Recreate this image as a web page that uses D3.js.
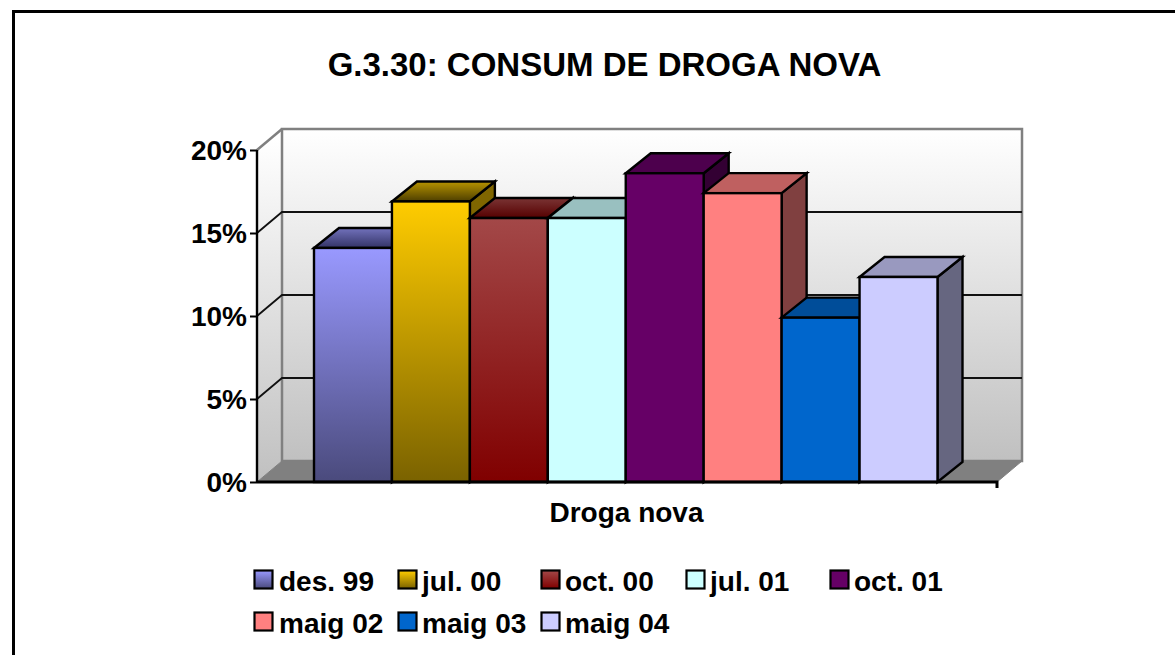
<!DOCTYPE html>
<html><head><meta charset="utf-8">
<script src="https://cdnjs.cloudflare.com/ajax/libs/d3/7.8.5/d3.min.js"></script>
<style>html,body{margin:0;padding:0;background:#fff}svg{display:block}text{font-family:"Liberation Sans",Arial,sans-serif;font-weight:bold;fill:#000}</style>
</head><body><svg id="c" width="1175" height="655"></svg>
<script>
const titleText = "G.3.30: CONSUM DE DROGA NOVA";
const categoryLabel = "Droga nova";
const seriesNames = ["des. 99","jul. 00","oct. 00","jul. 01","oct. 01","maig 02","maig 03","maig 04"];
const seriesValues = [14.1,16.9,15.9,15.9,18.6,17.4,9.9,12.35];
const axisTicks = [0,5,10,15,20];
const faceTop = ["#9999ff","#ffcc00","#a34848","#ccffff","#660066","#ff8080","#0066cc","#ccccff"];
const faceBottom = ["#4a4a7c","#7a6200","#800000","#ccffff","#660066","#ff8080","#0066cc","#ccccff"];
const lidTop = ["#7272bc","#b89400","#7a3434","#99c0c0","#4d004d","#bf6060","#004d99","#9999bf"];
const lidBottom = ["#333366","#4d3e00","#560000","#99c0c0","#4d004d","#bf6060","#004d99","#9999bf"];
const sideFill = ["#4d4d80","#806600","#663333","#668080","#330033","#804040","#003366","#666680"];
const legendX = [254,398,541,686,830,254,398,541];
const legendY = [581,581,581,581,581,623,623,623];

const svg = d3.select("#c");
const defs = svg.append("defs");
const X0=257, X1=997, Y0=482, Y20=150, DX=25, DY=-21, BDY=-20;
const y = d3.scaleLinear().domain([0,20]).range([Y0,Y20]);
const x = d3.scaleBand().domain(seriesNames).range([314,937.5]).padding(0);
const line = d3.line();

// frame
svg.append("path").attr("d","M13.5,655V11.5H1175").attr("fill","none").attr("stroke","#000").attr("stroke-width",3);

// gradients
function grad(id,c1,c2,y1,y2){
  const g=defs.append("linearGradient").attr("id",id).attr("gradientUnits","userSpaceOnUse")
    .attr("x1",0).attr("x2",0).attr("y1",y1).attr("y2",y2);
  g.append("stop").attr("offset",0).attr("stop-color",c1);
  g.append("stop").attr("offset",1).attr("stop-color",c2);
}
grad("wall","#ffffff","#c0c0c0",Y20+DY,Y0+DY);
grad("swall","#ffffff","#c0c0c0",Y20+DY/2,Y0);
seriesNames.forEach((n,i)=>{
  grad("f"+i,faceTop[i],faceBottom[i],y(seriesValues[i]),Y0);
  grad("l"+i,lidTop[i],lidBottom[i],y(seriesValues[i])+BDY,y(seriesValues[i]));
});

// walls and floor
const wallStroke="#808080";
svg.append("path").attr("d",line([[X0,Y20],[X0+DX,Y20+DY],[X0+DX,Y0+DY],[X0,Y0]])+"Z").attr("fill","url(#swall)").attr("stroke","none");
svg.append("rect").attr("x",X0+DX).attr("y",Y20+DY).attr("width",X1-X0).attr("height",Y0-Y20).attr("fill","url(#wall)").attr("stroke",wallStroke).attr("stroke-width",2.5);
svg.append("path").attr("d",line([[X0,Y0],[X0+DX,Y0+DY],[X1+DX,Y0+DY],[X1,Y0]])+"Z").attr("fill","#808080").attr("stroke","#808080").attr("stroke-width",1);
svg.append("path").attr("d",line([[X0,Y20],[X0+DX,Y20+DY]])).attr("stroke",wallStroke).attr("stroke-width",2.5).attr("fill","none");

// gridlines
axisTicks.filter(t=>t>0&&t<20).forEach(t=>{
  svg.append("path").attr("d",line([[X0,y(t)],[X0+DX,y(t)+DY],[X1+DX,y(t)+DY]])).attr("fill","none").attr("stroke","#111").attr("stroke-width",1.8);
});

// bars
const W=x.bandwidth();
seriesNames.forEach((n,i)=>{
  const v=seriesValues[i], l=x(n), r=l+W, t=y(v);
  const g=svg.append("g").attr("stroke","#000").attr("stroke-width",2.4).attr("stroke-linejoin","miter");
  g.append("path").attr("d",line([[r,t],[r+DX,t+BDY],[r+DX,Y0+BDY],[r,Y0]])+"Z").attr("fill",sideFill[i]);
  g.append("path").attr("d",line([[l,t],[l+DX,t+BDY],[r+DX,t+BDY],[r,t]])+"Z").attr("fill",`url(#l${i})`);
  g.append("rect").attr("x",l).attr("y",t).attr("width",W).attr("height",Y0-t).attr("fill",`url(#f${i})`);
});

// axes
const yAxis=d3.axisLeft(y).tickValues(axisTicks).tickSize(7).tickPadding(3).tickFormat(d=>d+"%");
const ya=svg.append("g").attr("transform",`translate(${X0},0)`).call(yAxis);
ya.selectAll("path.domain").attr("d",`M0,${Y20}V${Y0}`).attr("stroke","#000").attr("stroke-width",2.4);
ya.selectAll("line").attr("stroke","#000").attr("stroke-width",2);
ya.selectAll("text").style("font-size","28px").attr("dy","0.33em");
svg.append("path").attr("d",`M${X0},${Y0}H${X1}V${Y0+6}`).attr("fill","none").attr("stroke","#000").attr("stroke-width",3);

// texts
svg.append("text").attr("x",604.5).attr("y",75.5).attr("text-anchor","middle").style("font-size","33px").text(titleText);
svg.append("text").attr("x",626.5).attr("y",522).attr("text-anchor","middle").style("font-size","28px").text(categoryLabel);

// legend
seriesNames.forEach((n,i)=>{
  const g=svg.append("g").attr("transform",`translate(${legendX[i]},${legendY[i]})`);
  const id="lg"+i;
  const gr=defs.append("linearGradient").attr("id",id).attr("x1",0).attr("x2",0).attr("y1",0).attr("y2",1);
  gr.append("stop").attr("offset",0).attr("stop-color",faceTop[i]);
  gr.append("stop").attr("offset",1).attr("stop-color",faceBottom[i]);
  g.append("rect").attr("x",0.5).attr("y",-10.5).attr("width",18).attr("height",18).attr("fill",`url(#${id})`).attr("stroke","#000").attr("stroke-width",2.2);
  g.append("text").attr("x",i===0||i===5?25:24).attr("y",10).style("font-size","28px").text(n);
});
</script></body></html>
